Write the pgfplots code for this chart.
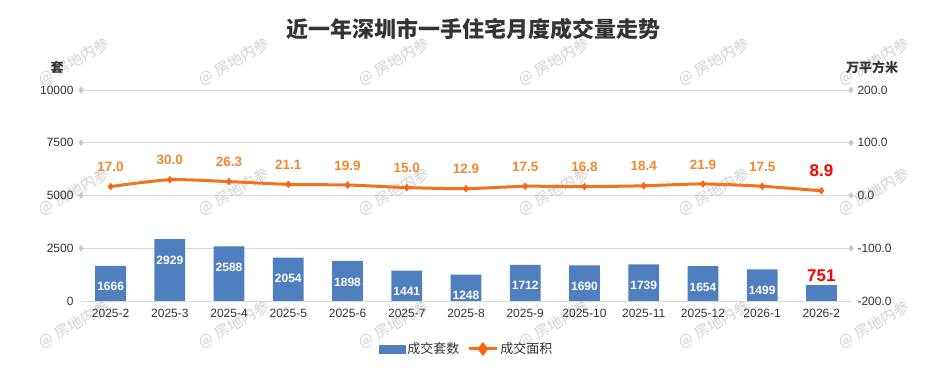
\documentclass[border=0pt]{standalone}
\usepackage{fontspec}
\setmainfont{Liberation Sans}
\newfontfamily\cjk{Noto Sans CJK SC}
\usepackage{pgfplots}
\pgfplotsset{compat=1.18}
\definecolor{barblue}{RGB}{79,127,190}
\definecolor{lineo}{RGB}{242,114,30}
\definecolor{markero}{RGB}{250,100,10}
\definecolor{labo}{RGB}{240,136,48}
\definecolor{gridc}{RGB}{217,217,217}
\definecolor{txt}{RGB}{51,51,51}
\definecolor{tickc}{RGB}{200,200,200}
\definecolor{wm}{RGB}{210,210,210}
\begin{document}
\begin{tikzpicture}[x=1pt,y=1pt]
\path[use as bounding box] (0,0) rectangle (927,385);
% watermarks
\foreach \wx in {74,234,394,554,714,874}{
  \foreach \wy in {323,193,60}{
    \node[rotate=30, text=wm, font=\cjk\fontsize{15}{15}\selectfont] at (\wx,\wy) {@ 房地内参};
  }
}
% title and axis titles
\node[font=\cjk\bfseries\fontsize{22}{22}\selectfont, text=txt] at (473.5,356) {近一年深圳市一手住宅月度成交量走势};
\node[font=\cjk\bfseries\fontsize{13}{13}\selectfont, text=txt] at (57,317) {套};
\node[font=\cjk\bfseries\fontsize{13}{13}\selectfont, text=txt] at (872,318) {万平方米};

\begin{axis}[
  at={(81pt,84pt)}, anchor=south west,
  width=770pt, height=211pt, scale only axis,
  xmin=-0.5, xmax=12.5, ymin=0, ymax=10000,
  ytick={0,2500,5000,7500,10000},
  scaled y ticks=false,
  xtick={0,1,2,3,4,5,6,7,8,9,10,11,12},
  xticklabels={2025-2,2025-3,2025-4,2025-5,2025-6,2025-7,2025-8,2025-9,2025-10,2025-11,2025-12,2026-1,2026-2},
  axis line style={draw=none},
  major tick length=0pt,
  ymajorgrids,
  grid style={color=gridc, line width=0.9pt},
  tick label style={font=\fontsize{12}{14}\selectfont, text=txt},
  xticklabel style={yshift=-5pt},
  yticklabel style={xshift=-4pt},
  /pgf/number format/assume math mode=true,
  /pgf/number format/set thousands separator={},
  clip=false,
  ybar, bar width=0.52,
]
\addplot[fill=barblue, draw=none, bar shift=0pt,
  nodes near coords, point meta=explicit symbolic,
  nodes near coords style={font=\bfseries\fontsize{12}{12}\selectfont, text=white, anchor=north, inner sep=0pt, yshift=-16.5pt}]
  coordinates {(0,1666)[1666] (1,2929)[2929] (2,2588)[2588] (3,2054)[2054] (4,1898)[1898] (5,1441)[1441]
               (6,1248)[1248] (7,1712)[1712] (8,1690)[1690] (9,1739)[1739] (10,1654)[1654] (11,1499)[1499]};
\addplot[fill=barblue, draw=none, bar shift=0pt,
  nodes near coords, point meta=explicit symbolic,
  nodes near coords style={font=\bfseries\fontsize{17}{17}\selectfont, text=red, anchor=south, inner sep=0pt, yshift=3pt}]
  coordinates {(12,751)[751]};
\addplot[only marks, mark=diamond*, mark size=3pt, color=tickc, forget plot]
  coordinates {(-0.5,2500) (-0.5,5000) (-0.5,7500) (-0.5,10000)};
\end{axis}

\begin{axis}[
  at={(81pt,84pt)}, anchor=south west,
  width=770pt, height=211pt, scale only axis,
  xmin=-0.5, xmax=12.5, ymin=-200, ymax=200,
  hide x axis,
  axis y line*=right,
  axis line style={draw=none},
  major tick length=0pt,
  ytick={-200,-100,0,100,200},
  tick label style={font=\fontsize{12}{14}\selectfont, text=txt},
  yticklabel style={xshift=3pt, /pgf/number format/.cd, fixed, fixed zerofill, precision=1, assume math mode=true},
  clip=false,
  legend style={at={(0.501,-0.2275)}, anchor=center, draw=none, fill=none,
    font=\cjk\fontsize{13}{13}\selectfont, text=txt,
    /tikz/every even column/.append style={column sep=6pt}},
  legend columns=2,
]
\addlegendimage{legend image code/.code={\fill[barblue] (0pt,-4pt) rectangle (26pt,4pt);}}
\addlegendentry{成交套数}
\addplot[color=lineo, line width=3pt, smooth, tension=0.4,
  mark=diamond*, mark size=3.5pt, mark options={fill=markero, draw=markero, line width=0.4pt},
  legend image code/.code={\draw[lineo, line width=3pt] (0pt,0pt) -- (28pt,0pt);
     \fill[markero] (14pt,4.5pt) -- (17.5pt,0pt) -- (14pt,-4.5pt) -- (10.5pt,0pt) -- cycle;}]
  coordinates {(0,17.0) (1,30.0) (2,26.3) (3,21.1) (4,19.9) (5,15.0) (6,12.9)
               (7,17.5) (8,16.8) (9,18.4) (10,21.9) (11,17.5) (12,8.9)};
\addlegendentry{成交面积}
\addplot[draw=none, mark=none, forget plot,
  nodes near coords, point meta=explicit symbolic,
  nodes near coords style={font=\bfseries\fontsize{13.5}{13.5}\selectfont, text=labo, anchor=south, inner sep=0pt, yshift=14.5pt}]
  coordinates {(0,17.0)[17.0] (1,30.0)[30.0] (2,26.3)[26.3] (3,21.1)[21.1] (4,19.9)[19.9] (5,15.0)[15.0]
               (6,12.9)[12.9] (7,17.5)[17.5] (8,16.8)[16.8] (9,18.4)[18.4] (10,21.9)[21.9] (11,17.5)[17.5]};
\addplot[draw=none, mark=none, forget plot,
  nodes near coords, point meta=explicit symbolic,
  nodes near coords style={font=\bfseries\fontsize{17}{17}\selectfont, text=red, anchor=south, inner sep=0pt, yshift=14pt}]
  coordinates {(12,8.9)[8.9]};
\addplot[only marks, mark=diamond*, mark size=3pt, color=tickc, forget plot]
  coordinates {(12.5,-100) (12.5,0) (12.5,100) (12.5,200)};
\end{axis}
\end{tikzpicture}
\end{document}
